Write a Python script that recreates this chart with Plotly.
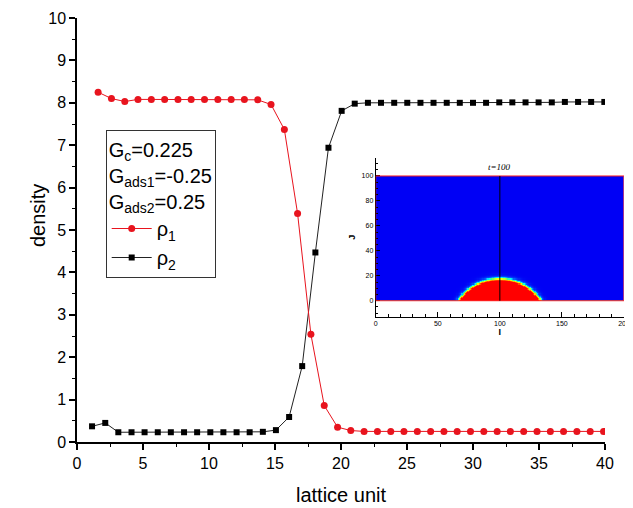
import numpy as np
import plotly.graph_objects as go

# ---------------- data ----------------
rho1_x = [1.60, 2.61, 3.62, 4.62, 5.63, 6.64, 7.65, 8.65, 9.66, 10.67, 11.68, 12.68,
          13.69, 14.70, 15.71, 16.71, 17.72, 18.73, 19.74, 20.74, 21.75, 22.76, 23.77,
          24.77, 25.78, 26.79, 27.80, 28.80, 29.81, 30.82, 31.83, 32.83, 33.84, 34.85,
          35.86, 36.86, 37.87, 38.88, 39.89]
rho1_y = [8.25, 8.10, 8.03, 8.08, 8.08, 8.08, 8.08, 8.08, 8.08, 8.08, 8.08, 8.08,
          8.07, 7.96, 7.37, 5.39, 2.54, 0.86, 0.35, 0.27, 0.25, 0.25, 0.25,
          0.25, 0.25, 0.25, 0.25, 0.25, 0.25, 0.25, 0.25, 0.25, 0.25, 0.25,
          0.25, 0.25, 0.25, 0.25, 0.25]

rho2_x = [1.14, 2.14, 3.13, 4.13, 5.12, 6.12, 7.11, 8.11, 9.10, 10.10, 11.09, 12.09,
          13.08, 14.08, 15.07, 16.07, 17.06, 18.06, 19.05, 20.05, 21.04, 22.04, 23.03,
          24.03, 25.02, 26.02, 27.01, 28.01, 29.00, 30.00, 30.99, 31.99, 32.98, 33.98,
          34.97, 35.97, 36.96, 37.96, 38.95, 39.95]
rho2_y = [0.37, 0.45, 0.23, 0.23, 0.23, 0.23, 0.23, 0.23, 0.23, 0.23, 0.23, 0.23,
          0.23, 0.24, 0.28, 0.59, 1.79, 4.47, 6.94, 7.81, 7.98, 8.00, 8.00,
          8.00, 8.00, 8.00, 8.00, 8.00, 8.00, 8.00, 8.00, 8.01, 8.01, 8.01,
          8.01, 8.01, 8.02, 8.02, 8.02, 8.02]

legend_title = "G<sub>c</sub>=0.225<br>G<sub>ads1</sub>=-0.25<br>G<sub>ads2</sub>=0.25"

# inset (droplet snapshot) parameters
inset_title = "t=100"
domain_I = 200
domain_J = 100
drop_center_I = 100
drop_base_half_width = 34.0
drop_height = 18.0
interface_width = 2.0
wall_level = 0.3

# ---------------- inset field ----------------
R = (drop_base_half_width ** 2 + drop_height ** 2) / (2 * drop_height)
yc = drop_height - R
I = np.arange(domain_I) + 0.5
J = np.arange(domain_J) + 0.5
XX, YY = np.meshgrid(I, J)
dist = np.sqrt((XX - drop_center_I) ** 2 + (YY - yc) ** 2)
field = 0.5 * (1 - np.tanh((dist - R) / interface_width))
field[0, :] = np.maximum(field[0, :], wall_level)

jet_like = [[0.0, "#0000f5"], [0.25, "#0060ff"], [0.38, "#00ffff"], [0.5, "#40ff80"],
            [0.62, "#ffff00"], [0.75, "#ff8000"], [0.86, "#ff0000"], [1.0, "#ff0000"]]

FONT = "Arial, Liberation Sans, sans-serif"
RED = "#e8141e"

# page offset (default body margin of the html page)
OFF = 8
L, T, Rm, B = 77 - OFF, 18 - OFF, 5, 66
FIG_W, FIG_H = 633 - OFF, 508 - OFF
W_PLOT = FIG_W - L - Rm
H_PLOT = FIG_H - T - B


def px_x(sx):  # screen x -> paper x
    return (sx - 77) / W_PLOT


def px_y(sy):  # screen y -> paper y
    return (442 - sy) / H_PLOT


fig = go.Figure()

fig.add_trace(go.Scatter(
    x=rho2_x, y=rho2_y, mode="lines+markers", name="ρ<sub>2</sub>",
    line=dict(color="#222222", width=1),
    marker=dict(symbol="square", size=6, color="black"),
    legendrank=2))
fig.add_trace(go.Scatter(
    x=rho1_x, y=rho1_y, mode="lines+markers", name="ρ<sub>1</sub>",
    line=dict(color=RED, width=1),
    marker=dict(symbol="circle", size=7, color=RED),
    legendrank=1))

fig.add_trace(go.Heatmap(
    z=field, x0=0.5, dx=1, y0=0.5, dy=1, xaxis="x2", yaxis="y2",
    colorscale=jet_like, zmin=0, zmax=1, showscale=False, hoverinfo="skip"))

# inset outline and centre line
fig.add_shape(type="rect", xref="x2", yref="y2", x0=0, x1=domain_I, y0=0, y1=domain_J,
              line=dict(color="#ff2020", width=1))
fig.add_shape(type="line", xref="x2", yref="y2", x0=drop_center_I, x1=drop_center_I,
              y0=0, y1=domain_J, line=dict(color="black", width=1))
fig.add_annotation(xref="x2", yref="y2", x=drop_center_I, y=107, text="<i>" + inset_title + "</i>",
                   showarrow=False, font=dict(family="Liberation Serif, serif", size=9, color="black"))

# y axis title
fig.add_annotation(xref="paper", yref="paper", x=px_x(25), y=px_y(215),
                   text="density", textangle=-90, showarrow=False,
                   font=dict(family=FONT, size=20, color="black"))

fig.update_layout(
    width=FIG_W, height=FIG_H,
    margin=dict(l=L, r=Rm, t=T, b=B, autoexpand=False),
    paper_bgcolor="white", plot_bgcolor="white",
    font=dict(family=FONT, color="black"),
    showlegend=True,
    legend=dict(
        title=dict(text=legend_title, font=dict(size=20, family=FONT)),
        font=dict(size=20, family=FONT),
        x=px_x(105.7), y=px_y(130),
        xanchor="left", yanchor="top",
        bordercolor="#333333", borderwidth=1, bgcolor="white",
        itemwidth=40, tracegroupgap=0),
    xaxis=dict(
        domain=[0, 528 / W_PLOT], range=[0, 40], automargin=False,
        showgrid=False, zeroline=False, showline=True, linecolor="black", linewidth=1.5,
        ticks="outside", ticklen=6, tickwidth=1.5, tickcolor="black",
        tickvals=[0, 5, 10, 15, 20, 25, 30, 35, 40],
        minor=dict(dtick=2.5, ticks="outside", ticklen=3, tickwidth=1.2, tickcolor="black"),
        tickfont=dict(size=16),
        title=dict(text="lattice unit", font=dict(size=20), standoff=17)),
    yaxis=dict(
        domain=[0, 1], range=[0, 10], automargin=False,
        showgrid=False, zeroline=False, showline=True, linecolor="black", linewidth=1.5,
        ticks="outside", ticklen=6, tickwidth=1.5, tickcolor="black",
        tickvals=list(range(0, 11)),
        minor=dict(dtick=0.5, ticks="outside", ticklen=3, tickwidth=1.2, tickcolor="black"),
        tickfont=dict(size=16)),
    xaxis2=dict(
        domain=[px_x(375.7), px_x(624)], range=[0, 200],
        anchor="y2", automargin=False, showgrid=False, zeroline=False, showline=True,
        linecolor="black", linewidth=1,
        ticks="inside", ticklen=5, tickwidth=1, tickcolor="black",
        tickvals=[0, 50, 100, 150, 200],
        minor=dict(dtick=10, ticks="inside", ticklen=2.5, tickcolor="black"),
        tickfont=dict(size=7),
        title=dict(text="<b>I</b>", font=dict(size=9), standoff=2)),
    yaxis2=dict(
        domain=[px_y(316.7), px_y(158)], range=[-12.8, 114.4],
        anchor="x2", automargin=False, showgrid=False, zeroline=False, showline=True,
        linecolor="black", linewidth=1,
        ticks="inside", ticklen=4, tickwidth=1, tickcolor="black",
        tickvals=[0, 20, 40, 60, 80, 100],
        minor=dict(dtick=5, ticks="inside", ticklen=2, tickcolor="black"),
        tickfont=dict(size=7),
        title=dict(text="<b>J</b>", font=dict(size=9), standoff=4)),
)

fig.write_html("out.html")
